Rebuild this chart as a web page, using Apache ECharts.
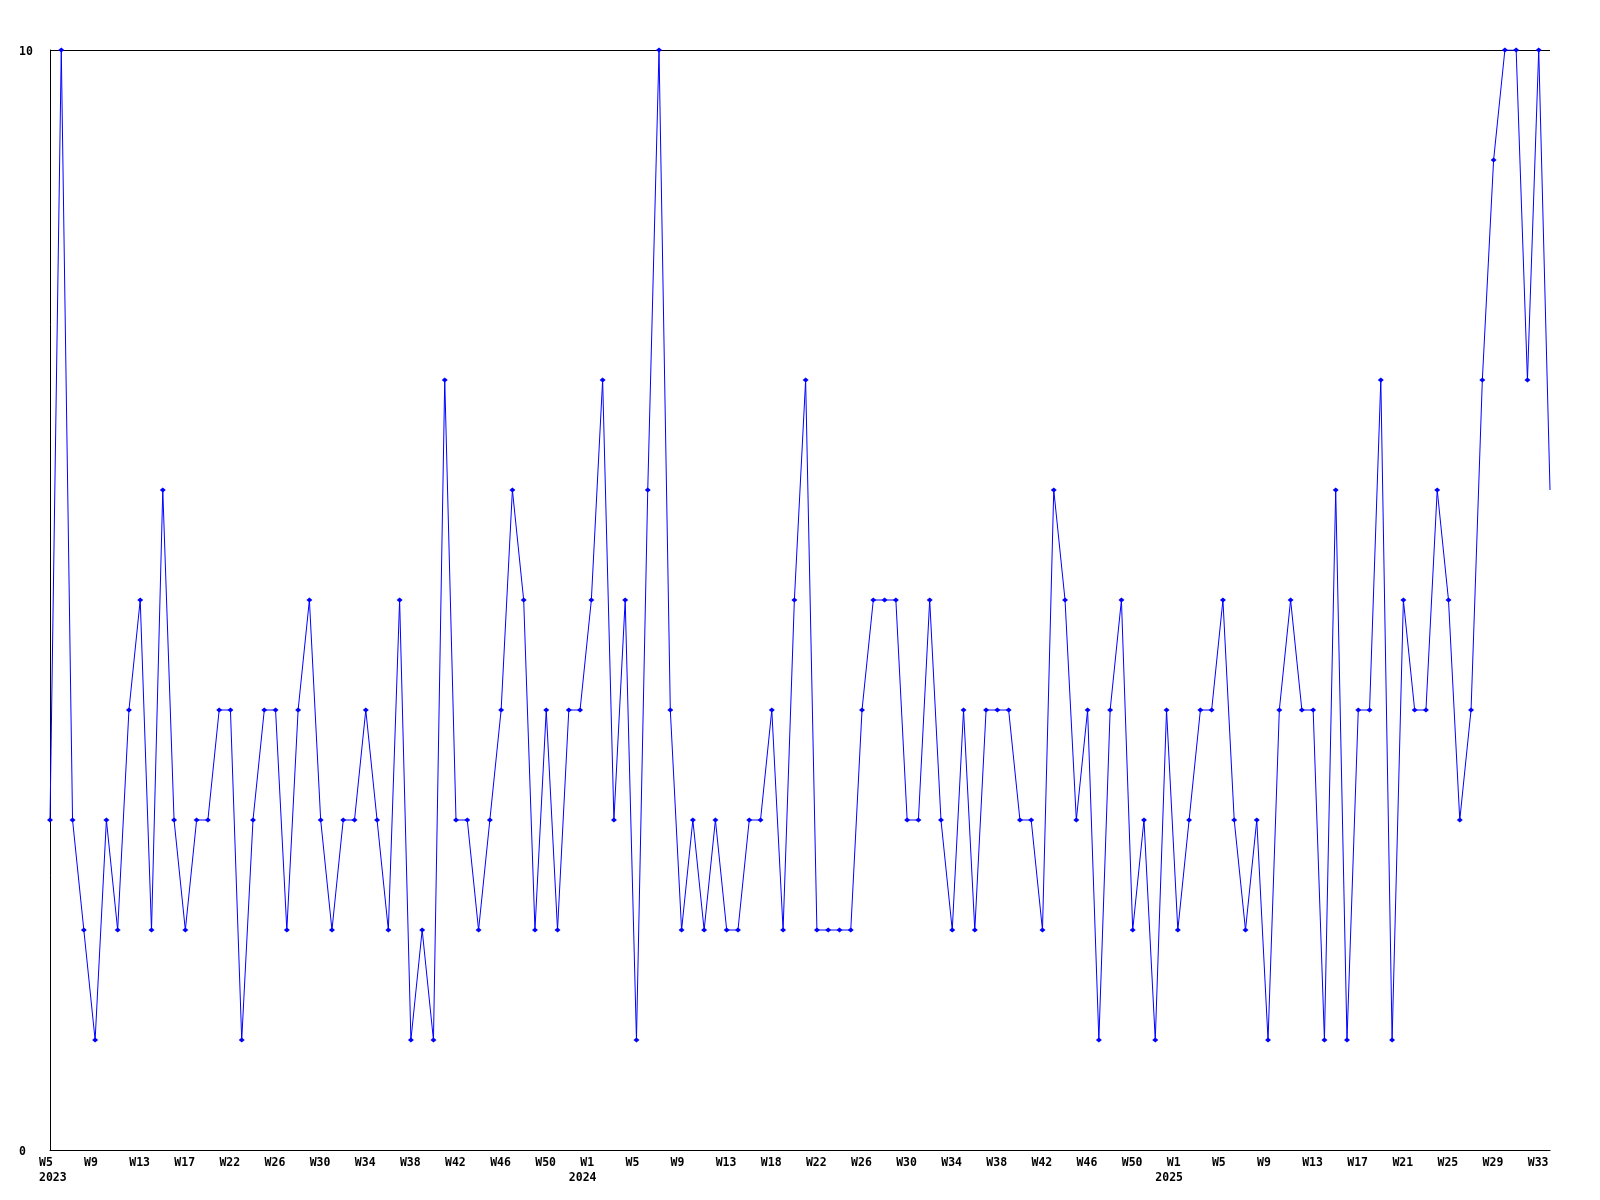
<!DOCTYPE html>
<html><head><meta charset="utf-8">
<script src="https://cdn.jsdelivr.net/npm/echarts@6/dist/echarts.min.js"></script>
<style>html,body{margin:0;padding:0;background:#fff}#c{width:1600px;height:1200px}</style>
</head><body><div id="c"></div>
<script>
// ISO week ranges covered: [year, first week, last week]
const weekRanges = [[2023, 5, 52], [2024, 1, 52], [2025, 1, 34]];
const categories = [];
weekRanges.forEach(function (r) {
  for (let w = r[1]; w <= r[2]; w++) categories.push(r[0] + '-W' + String(w).padStart(2, '0'));
});

// weekly values
const values = [
  3,10,3,2,1,3,2,4,5,2,6,3,2,3,3,4,4,1,3,4,4,2,4,5,3,2,3,
  3,4,3,2,5,1,2,1,7,3,3,2,3,4,6,5,2,4,2,4,4,5,7,3,5,1,6,
  10,4,2,3,2,3,2,2,3,3,4,2,5,7,2,2,2,2,4,5,5,5,3,3,5,3,
  2,4,2,4,4,4,3,3,2,6,5,3,4,1,4,5,2,3,1,4,2,3,4,4,5,3,2,
  3,1,4,5,4,4,1,6,1,4,4,7,1,5,4,4,6,5,3,4,7,9,10,10,7,10,6
];

// x tick labels, one every 4th week point (as printed on the reference)
const tickLabels = [
  'W5','W9','W13','W17','W22','W26','W30','W34','W38','W42','W46','W50',
  'W1','W5','W9','W13','W18','W22','W26','W30','W34','W38','W42','W46','W50',
  'W1','W5','W9','W13','W17','W21','W25','W29','W33'
];
const tickEvery = 4;
// year labels under the first week of each year
const yearCats = ['2023-W05', '2024-W01', '2025-W01'];
const yearLabels = ['2023', '2024', '2025'];
const yTicks = [0, 10];

const FONT = 'DejaVu Sans Mono';
const fontBase = { fontFamily: FONT, fontWeight: 'bold', fontSize: 11.5, color: '#000' };

const chart = echarts.init(document.getElementById('c'), null, { renderer: 'canvas' });
chart.setOption({
  animation: false,
  backgroundColor: '#fff',
  grid: { left: 50, right: 50, top: 50, bottom: 50, containLabel: false },
  xAxis: [
    {
      type: 'category', data: categories, boundaryGap: false, position: 'bottom',
      axisLine: { show: true, lineStyle: { color: '#000', width: 1 } },
      axisTick: { show: false },
      splitLine: { show: false },
      axisLabel: Object.assign({}, fontBase, {
        margin: 7,
        interval: tickEvery - 1,
        formatter: function (v, i) {
          const t = tickLabels[Math.round(i / tickEvery)];
          return t ? '{wk|' + t + '}' : '';
        },
        rich: { wk: Object.assign({}, fontBase, { width: 22, align: 'left' }) }
      })
    },
    {
      type: 'category', data: categories, boundaryGap: false, position: 'bottom',
      axisLine: { show: false }, axisTick: { show: false }, splitLine: { show: false },
      axisLabel: Object.assign({}, fontBase, {
        margin: 22,
        interval: function (i, v) { return yearCats.indexOf(v) >= 0; },
        formatter: function (v) {
          const k = yearCats.indexOf(v);
          return (k === 0 ? '{y0|' : '{y1|') + yearLabels[k] + '}';
        },
        rich: {
          y0: Object.assign({}, fontBase, { width: 22, align: 'left' }),
          y1: Object.assign({}, fontBase, { width: 45, align: 'left' })
        }
      })
    }
  ],
  yAxis: {
    type: 'value', min: yTicks[0], max: yTicks[1], interval: yTicks[1] - yTicks[0],
    axisLine: { show: true, lineStyle: { color: '#000', width: 1 } },
    axisTick: { show: false },
    splitLine: { show: true, lineStyle: { color: '#000', width: 1 } },
    axisLabel: Object.assign({}, fontBase, {
      align: 'left', margin: 31, padding: [4, 0, 0, 0],
      formatter: function (v) { return '{v|' + v + '}'; },
      rich: { v: Object.assign({}, fontBase) }
    })
  },
  series: [{
    type: 'line',
    data: values,
    xAxisIndex: 0,
    lineStyle: { color: '#0000ff', width: 1 },
    itemStyle: { color: '#0000ff' },
    symbol: 'diamond',
    symbolSize: function (v, p) { return p.dataIndex === values.length - 1 ? 0 : [6, 5]; },
    showAllSymbol: true,
    emphasis: { disabled: true }
  }]
});
</script>
</body></html>
